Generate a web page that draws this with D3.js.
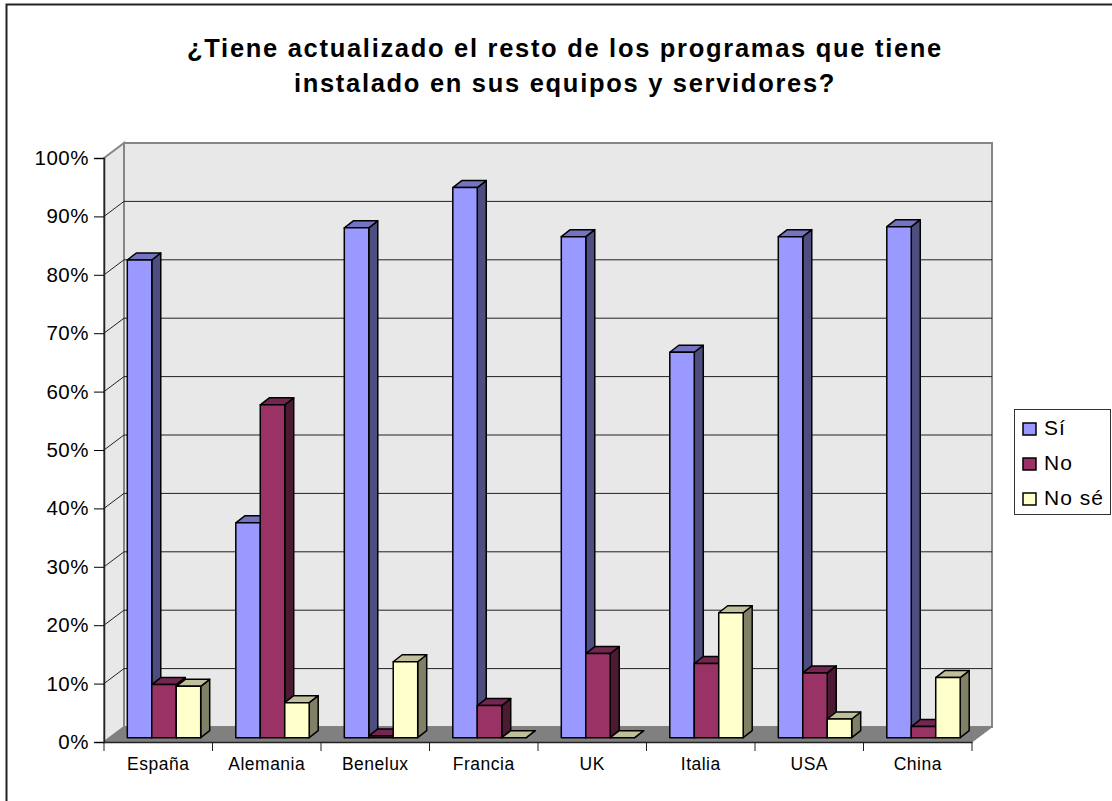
<!DOCTYPE html>
<meta charset="utf-8">
<style>
    html, body { margin: 0; background: #fff; }
    svg { display: block; font-family: "Liberation Sans", Arial, sans-serif; }
</style>
<svg></svg>
<script src="https://cdn.jsdelivr.net/npm/d3@7"></script>
<script>
    var categories = ['España', 'Alemania', 'Benelux', 'Francia', 'UK', 'Italia', 'USA', 'China'];
    var seriesNames = ['Sí', 'No', 'No sé'];
    var si = [81.8, 36.8, 87.3, 94.2, 85.8, 66, 85.8, 87.5];
    var no = [9.1, 57, 0.3, 5.5, 14.4, 12.7, 11.1, 1.9];
    var nose = [8.8, 6, 13, 0, 0, 21.4, 3.2, 10.3];
    var yTicks = [0, 10, 20, 30, 40, 50, 60, 70, 80, 90, 100];
    var titleLines = ['¿Tiene actualizado el resto de los programas que tiene', 'instalado en sus equipos y servidores?'];

    var seriesValues = [si, no, nose];
    var frontColors = ['#9999ff', '#993366', '#ffffcc'];
    var topColors = ['#7373bf', '#732650', '#bfbf99'];
    var sideColors = ['#4d4d80', '#4d1a33', '#808066'];

    var svg = d3.select('svg').attr('width', 1112).attr('height', 801);

    var x = d3.scaleBand().domain(categories).range([104, 972]);
    var y = d3.scaleLinear().domain([0, 100]).range([742, 158]);
    var inner = d3.scaleBand().domain(d3.range(3)).range([23.3, 96.7]);

    // depth of the chart box and of the bars
    var dx = 20, dy = -15;
    var barDx = 9, barDy = -7;
    var barOffY = -4.3;

    // outer frame, only top and left show in the crop
    svg.append('path')
        .attr('d', 'M6.5,810V4.5H1112')
        .attr('fill', 'none').attr('stroke', '#222').attr('stroke-width', 2);

    svg.selectAll('.title').data(titleLines).enter().append('text')
        .attr('class', 'title')
        .attr('x', 565)
        .attr('y', (d, i) => 57 + i * 35)
        .attr('text-anchor', 'middle')
        .attr('font-size', 25.5)
        .attr('font-weight', 'bold')
        .attr('letter-spacing', 1.7)
        .attr('fill', '#000')
        .text(d => d);

    var pts = a => a.map(p => p.join(',')).join(' ');

    // back wall
    svg.append('polygon')
        .attr('points', pts([[104 + dx, y(100) + dy], [972 + dx, y(100) + dy], [972 + dx, y(0) + dy], [104 + dx, y(0) + dy]]))
        .attr('fill', '#e8e8e8').attr('stroke', '#868686').attr('stroke-width', 2);
    // side wall
    svg.append('polygon')
        .attr('points', pts([[104, y(100)], [104 + dx, y(100) + dy], [104 + dx, y(0) + dy], [104, y(0)]]))
        .attr('fill', '#e8e8e8').attr('stroke', '#868686').attr('stroke-width', 2);
    // floor
    svg.append('polygon')
        .attr('points', pts([[104, y(0)], [104 + dx, y(0) + dy], [972 + dx, y(0) + dy], [972, y(0)]]))
        .attr('fill', '#808080').attr('stroke', '#808080');

    // gridlines
    var grid = yTicks.filter(d => d > 0);
    svg.selectAll('.grid').data(grid).enter().append('polyline')
        .attr('class', 'grid')
        .attr('points', d => pts([[104, y(d)], [104 + dx, y(d) + dy], [972 + dx, y(d) + dy]]))
        .attr('fill', 'none')
        .attr('stroke', d => d == 100 ? '#868686' : '#222')
        .attr('stroke-width', 1);

    // axes
    var yAxis = d3.axisLeft(y).tickValues(yTicks).tickSize(10).tickPadding(5).tickFormat(d => d + '%');
    var gy = svg.append('g').attr('transform', 'translate(104,0)').call(yAxis);
    gy.selectAll('text').attr('font-size', 20.5).attr('font-family', 'inherit').attr('letter-spacing', 0.5).attr('fill', '#000');
    gy.select('.domain').attr('stroke', '#222').attr('stroke-width', 1.5);

    var xAxis = d3.axisBottom(x).tickSize(0).tickPadding(16);
    var gx = svg.append('g').attr('transform', 'translate(0,742)').call(xAxis);
    gx.selectAll('text').attr('font-size', 17.5).attr('font-family', 'inherit').attr('letter-spacing', 0.5).attr('fill', '#000');
    gx.select('.domain').attr('stroke', '#222').attr('stroke-width', 1.5);
    svg.selectAll('.xtick').data(d3.range(9)).enter().append('line')
        .attr('class', 'xtick')
        .attr('x1', i => 104 + i * x.step()).attr('x2', i => 104 + i * x.step())
        .attr('y1', 742).attr('y2', 751)
        .attr('stroke', '#222');

    // bars, back to front within each category
    categories.forEach(function (c, ci) {
        [0, 1, 2].forEach(function (s) {
            var v = seriesValues[s][ci];
            var x0 = x(c) + inner(s);
            var x1 = x0 + inner.bandwidth();
            var y0 = y(0) + barOffY;
            var y1 = y(v) + barOffY;
            var g = svg.append('g')
                .attr('stroke', '#000').attr('stroke-width', 1.5).attr('stroke-linejoin', 'round');
            g.append('polygon')
                .attr('points', pts([[x1, y1], [x1 + barDx, y1 + barDy], [x1 + barDx, y0 + barDy], [x1, y0]]))
                .attr('fill', sideColors[s]);
            g.append('polygon')
                .attr('points', pts([[x0, y1], [x0 + barDx, y1 + barDy], [x1 + barDx, y1 + barDy], [x1, y1]]))
                .attr('fill', topColors[s]);
            g.append('rect')
                .attr('x', x0).attr('y', y1)
                .attr('width', x1 - x0).attr('height', y0 - y1)
                .attr('fill', frontColors[s]);
        });
    });

    // legend
    var legend = svg.append('g');
    legend.append('rect')
        .attr('x', 1014.5).attr('y', 409.5)
        .attr('width', 96).attr('height', 105)
        .attr('fill', '#fff').attr('stroke', '#333');
    var ly = d3.scalePoint().domain(seriesNames).range([429, 499]);
    seriesNames.forEach(function (n, i) {
        legend.append('rect')
            .attr('x', 1023).attr('y', ly(n) - 6)
            .attr('width', 13).attr('height', 12)
            .attr('fill', frontColors[i]).attr('stroke', '#000').attr('stroke-width', 1.5);
        legend.append('text')
            .attr('x', 1044).attr('y', ly(n) + 6)
            .attr('font-size', 21).attr('letter-spacing', 1).attr('fill', '#000')
            .text(n);
    });
</script>
